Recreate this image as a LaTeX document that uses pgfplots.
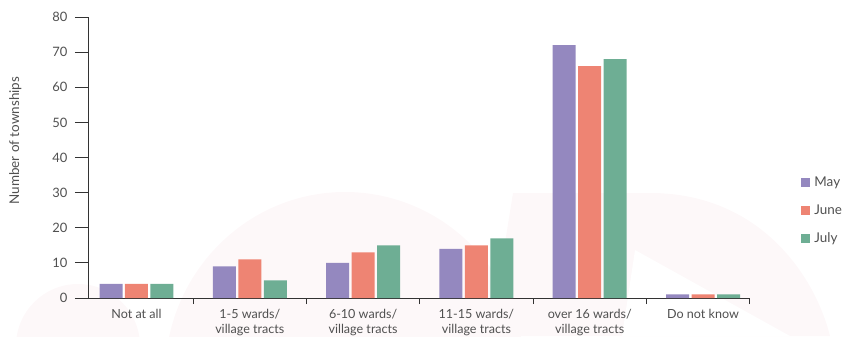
\documentclass[border=0pt]{standalone}
\usepackage{pgfplots}
\pgfplotsset{compat=1.18}
\usepackage{fontspec}
\setmainfont{Lato}
\definecolor{cMay}{HTML}{9488BF}
\definecolor{cJune}{HTML}{EE8473}
\definecolor{cJuly}{HTML}{6EAE94}
\definecolor{txt}{HTML}{505050}
\definecolor{axc}{HTML}{333333}
\definecolor{wm}{HTML}{FDF8F9}
\begin{document}
\begin{tikzpicture}[x=1bp,y=1bp]
\useasboundingbox (0,0) rectangle (847,336);
% faint watermark shapes (background logo)
\begin{scope}
\clip (0,0) rectangle (847,336);
\fill[wm] (78,-10) circle (62);
\fill[wm] (345,-40) ellipse (180 and 184);
\fill[wm] (513,143) -- (650,143) .. controls (760,143) and (815,60) .. (830,0) -- (490,0) -- cycle;
\fill[white] (635,86) -- (790,0) -- (622,0) -- cycle;
\end{scope}
\begin{axis}[
  at={(88bp,38bp)}, anchor=south west,
  scale only axis, width=661bp, height=281bp,
  xmin=-0.428, xmax=5.406, ymin=0, ymax=80,
  axis x line*=bottom, axis y line*=left,
  axis line style={axc, line width=0.9bp, -},
  xtick={0,1,2,3,4,5},
  xticklabels={Not at all, {1-5 wards/\\village tracts}, {6-10 wards/\\village tracts}, {11-15 wards/\\village tracts}, {over 16 wards/\\village tracts}, Do not know},
  x tick label style={align=center, font=\fontsize{12.6}{15}\selectfont, text=txt, yshift=5bp},
  major x tick style={draw=none},
  minor xtick={0.5,1.5,2.5,3.5,4.5,5.406},
  minor x tick style={axc, line width=0.9bp},
  ytick={0,10,...,80},
  y tick label style={font=\fontsize{13}{14}\selectfont, text=txt, xshift=-4bp},
  major y tick style={axc, line width=0.9bp},
  /pgf/number format/assume math mode=true,
  tick align=outside,
  major tick length=13bp,
  minor tick length=6bp,
  ylabel={Number of townships},
  ylabel style={font=\fontsize{13.5}{14}\selectfont, text=txt, at={(axis description cs:-0.11,0.56)}, anchor=center},
  ybar, bar width=0.203,
  legend style={at={(axis description cs:1.079,0.44)}, anchor=north west, draw=none, fill=none, font=\fontsize{13.5}{14}\selectfont, text=txt, row sep=13bp, inner sep=0pt, cells={anchor=west}, /tikz/every odd column/.append style={column sep=2bp}},
  legend image code/.code={\fill[#1] (0bp,-4.5bp) rectangle (9bp,4.5bp);},
  clip=false,
]
\addplot[fill=cMay, draw=none, bar shift=-0.225] coordinates {(0,4) (1,9) (2,10) (3,14) (4,72) (5,1)};
\addplot[fill=cJune, draw=none, bar shift=0] coordinates {(0,4) (1,11) (2,13) (3,15) (4,66) (5,1)};
\addplot[fill=cJuly, draw=none, bar shift=0.225] coordinates {(0,4) (1,5) (2,15) (3,17) (4,68) (5,1)};
\legend{May, June, July}
\end{axis}
\end{tikzpicture}
\end{document}
